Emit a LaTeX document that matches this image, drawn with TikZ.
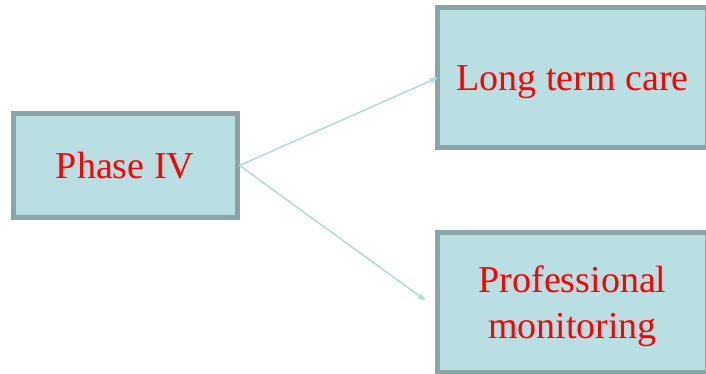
\documentclass[tikz,border=0pt]{standalone}
\usepackage{fontspec}
\setmainfont{Liberation Serif}
\usetikzlibrary{arrows}
\usetikzlibrary{positioning,shapes,fit}
\usepackage{xcolor}
\definecolor{boxfill}{HTML}{B9DFE2}
\definecolor{boxline}{HTML}{8AA5A8}
\definecolor{linkline}{HTML}{B3DADD}

\begin{document}
\begin{tikzpicture}[x=1pt,y=-1pt,
    stagebox/.style={draw=boxline,fill=boxfill,line width=5pt,text=red,
      font=\fontsize{38}{46}\selectfont,align=center,inner sep=0pt,text depth=0pt},
    link/.style={draw=linkline,line width=1.5pt,-stealth'}]
      \useasboundingbox (0,0) rectangle (706,374);
      \clip (0,0) rectangle (706,374);
      % the three stages
      \node[stagebox,minimum width=224pt,minimum height=103pt] (phase) at (125,165.5) {Phase IV};
      \node[stagebox,minimum width=270pt,minimum height=140pt] (care) at (572.5,78) {Long term care};
      \node[stagebox,minimum width=270pt,minimum height=140pt] (monitor) at (572.5,302) {Professional\\monitoring};
      % arrow ends
      \coordinate (careend) at (437,78);
      \coordinate (monend) at (425,300);
      \draw[link] (phase.east) -- (careend);
      \draw[link] (phase.east) -- (monend);
    \end{tikzpicture}
\end{document}
